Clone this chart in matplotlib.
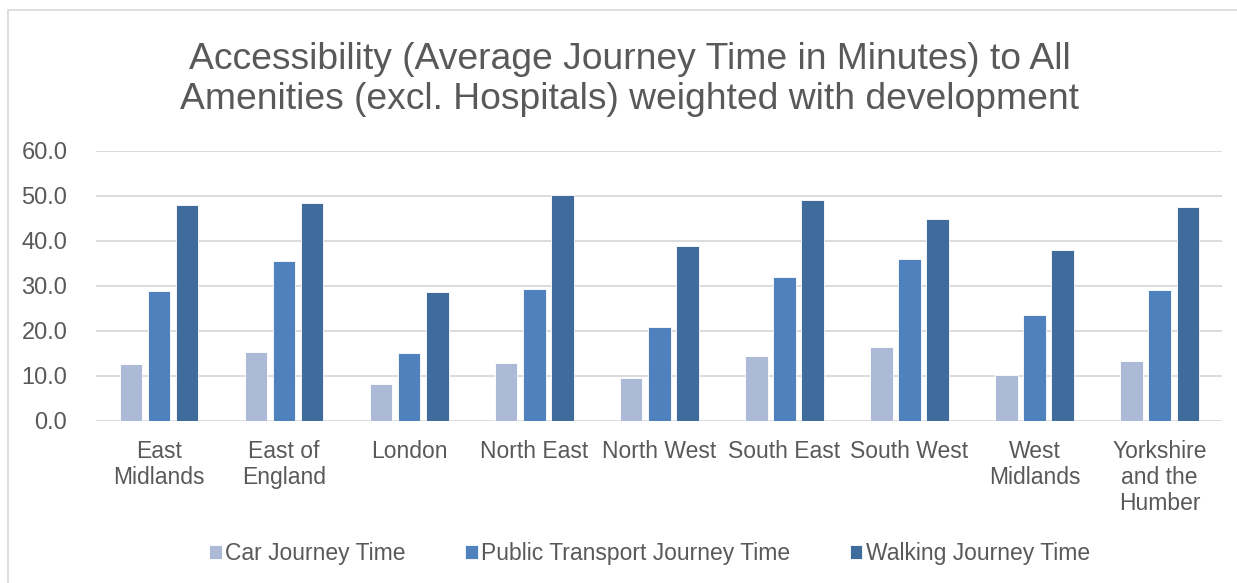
import numpy as np
import matplotlib.pyplot as plt
from matplotlib.patches import Rectangle

regions = ["East\nMidlands", "East of\nEngland", "London", "North East", "North West",
           "South East", "South West", "West\nMidlands", "Yorkshire\nand the\nHumber"]
car = [12.7, 15.4, 8.2, 12.8, 9.6, 14.4, 16.5, 10.3, 13.4]
public_transport = [28.8, 35.5, 15.2, 29.4, 20.9, 31.9, 36.0, 23.5, 29.0]
walking = [48.1, 48.5, 28.6, 50.3, 38.9, 49.0, 44.8, 38.0, 47.6]

series_names = ["Car Journey Time", "Public Transport Journey Time", "Walking Journey Time"]
colours = ["#ADBAD7", "#4F81BD", "#3F6B9D"]
TEXT = "#595959"

plt.rcParams['font.family'] = ['Liberation Sans', 'DejaVu Sans']

fig = plt.figure(figsize=(12.37, 5.83), dpi=100)
ax = fig.add_axes([0.078, 0.278, 0.910, 0.463])

# light frame around the whole chart
fig.patches.append(Rectangle((8 / 1237, -0.05), 1.1, 0.05 + 1 - 10 / 583,
                             transform=fig.transFigure, fill=False,
                             edgecolor="#D9D9D9", linewidth=1.2))

x = np.arange(len(regions))
offset = 0.225
width = 0.18
for i, (vals, name, col) in enumerate(zip([car, public_transport, walking], series_names, colours)):
    ax.bar(x + (i - 1) * offset, vals, width, color=col, label=name,
           edgecolor="white", linewidth=0.6, zorder=3)

ax.set_xlim(-0.5, len(regions) - 0.5)
ax.set_ylim(0, 60)
ax.set_yticks(np.arange(0, 61, 10))
ax.set_yticklabels([f"{v:.1f}" for v in np.arange(0, 61, 10)])
ax.yaxis.grid(True, color="#D9D9D9", linewidth=1.3, zorder=0)
ax.set_xticks(x)
ax.set_xticklabels(regions, linespacing=1.15)

for s in ax.spines.values():
    s.set_visible(False)
ax.tick_params(axis='both', length=0, colors=TEXT, labelsize=16.5)
ax.tick_params(axis='y', labelsize=17, pad=21)
ax.tick_params(axis='x', pad=14)

fig.text(0.509, 0.864, "Accessibility (Average Journey Time in Minutes) to All\n"
         "Amenities (excl. Hospitals) weighted with development",
         ha='center', va='center', fontsize=26.8, color=TEXT, linespacing=1.2)

leg = fig.legend(loc='center', bbox_to_anchor=(0.525, 0.051), ncol=3, frameon=False,
                 fontsize=16.5, handlelength=0.55, handleheight=0.55, handletextpad=0.15,
                 columnspacing=2.6, labelcolor=TEXT)

fig.savefig("out.png", dpi=100)
